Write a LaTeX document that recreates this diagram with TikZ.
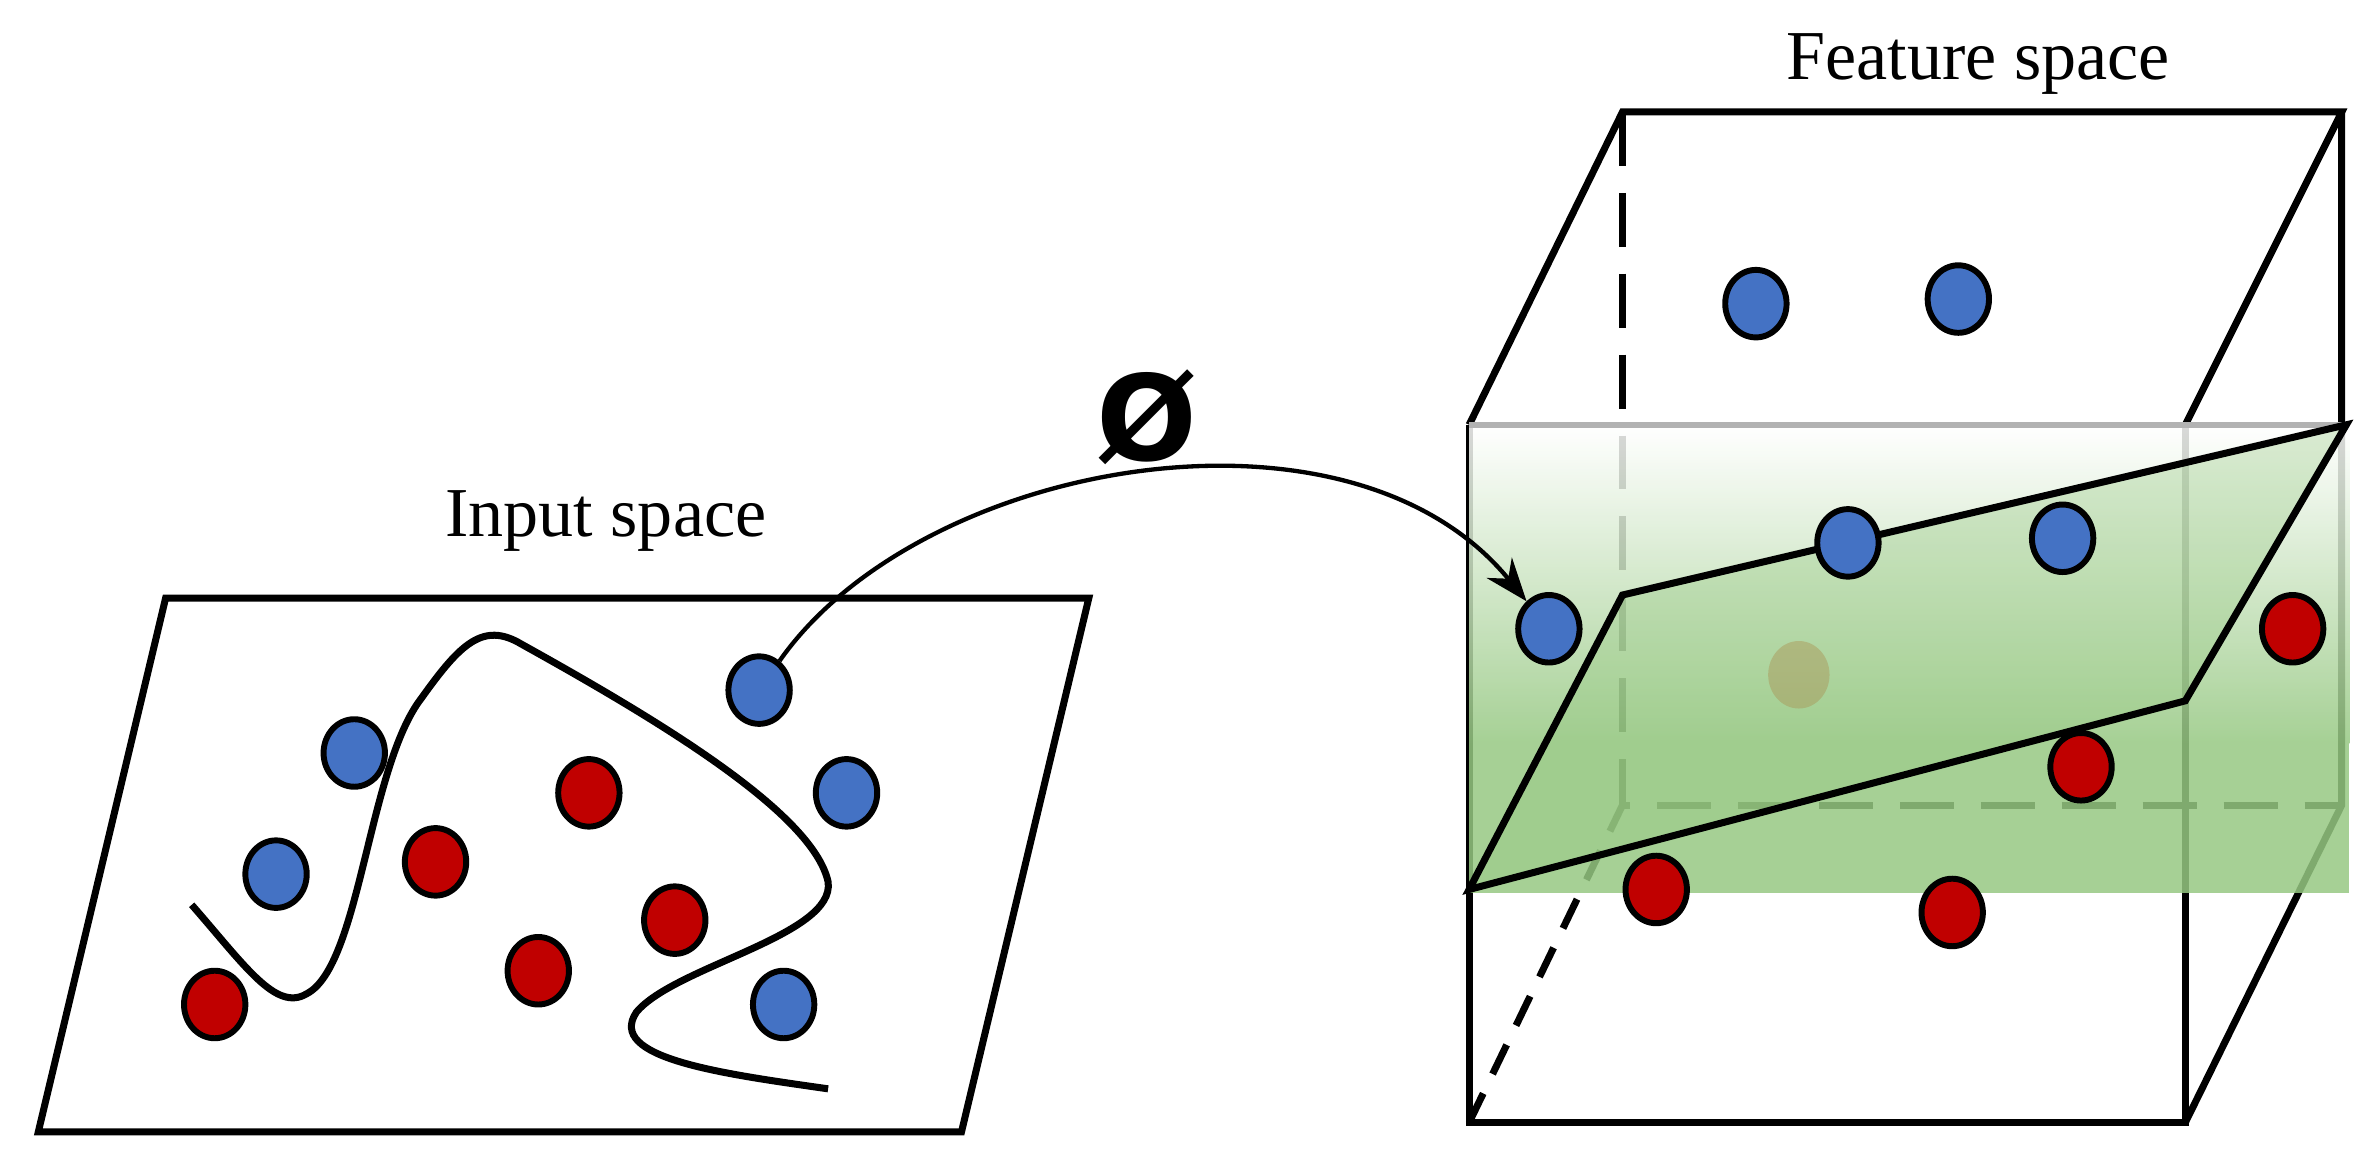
\documentclass[tikz,border=0pt]{standalone}
\usepackage{fontspec}
\setmainfont{Liberation Serif}
\newfontfamily\phifont{DejaVu Sans}
\usetikzlibrary{shapes.geometric,arrows.meta}
\begin{document}
\begin{tikzpicture}[x=0.01cm,y=-0.01cm,
  dot/.style={ellipse,draw=black,line width=1.1pt,minimum width=0.4cm,minimum height=0.44cm,inner sep=0pt},
  bl/.style={dot,fill={rgb,255:red,68;green,114;blue,196}},
  rd/.style={dot,fill={rgb,255:red,192;green,0;blue,0}},
  edge/.style={line width=1.3pt,black},
  lbl/.style={font=\fontsize{13}{15}\selectfont}]
\definecolor{gr}{RGB}{150,200,130}
\useasboundingbox (0,0) rectangle (1550,760);
% left plane
\draw[edge] (108,390) -- (710,390) -- (627,738) -- (25,738) -- cycle;
\draw[edge] (125,590) .. controls (160,630) and (180,660) .. (200,648)
  .. controls (235,630) and (240,500) .. (275,455)
  .. controls (300,420) and (315,405) .. (340,420)
  .. controls (430,470) and (530,530) .. (540,575)
  .. controls (545,610) and (440,630) .. (415,660)
  .. controls (395,690) and (470,700) .. (540,710);
\node[lbl] (inp) at (395,340) {Input space};
\node[bl] (b1) at (231,491) {};
\node[bl] (b2) at (180,570) {};
\node[bl] (b3) at (495,450) {};
\node[bl] (b4) at (552,517) {};
\node[bl] (b5) at (511,655) {};
\node[rd] (r1) at (384,517) {};
\node[rd] (r2) at (284,562) {};
\node[rd] (r3) at (140,655) {};
\node[rd] (r4) at (351,633) {};
\node[rd] (r5) at (440,600) {};
% box
\coordinate (A) at (958,277); \coordinate (B) at (1425,277);
\coordinate (C) at (1425,732); \coordinate (D) at (958,732);
\coordinate (E) at (1058,73); \coordinate (F) at (1527,73);
\coordinate (G) at (1527,525); \coordinate (H) at (1058,525);
\draw[edge] (A) -- (E) -- (F) -- (B);
\draw[edge] (F) -- (G) -- (C);
\draw[edge] (A) -- (D) -- (C) -- (B);
\draw[edge,dashed,dash pattern=on 10pt off 5pt] (E) -- (H) -- (G);
\draw[edge,dashed,dash pattern=on 6pt off 4pt] (D) -- (H);
\node[lbl] (fs) at (1290,42) {Feature space};
% green band
\shade[top color=white,bottom color=gr,opacity=0.85] (958,277) rectangle (1532,485);
\fill[gr,opacity=0.85] (958,485) rectangle (1532,582);
\draw[gray!60,line width=1pt] (958,277) -- (1532,277);
\node[dot,draw=none,fill={rgb,255:red,180;green,120;blue,60},opacity=0.45] (fr) at (1173,440) {};
\fill[gr,opacity=0.35] (958,580) -- (1058,388) -- (1530,277) -- (1425,457) -- cycle;
\draw[edge] (958,580) -- (1058,388) -- (1530,277) -- (1425,457) -- cycle;
\node[bl] (c1) at (1145,198) {};
\node[bl] (c2) at (1277,195) {};
\node[bl] (c3) at (1205,354) {};
\node[bl] (c4) at (1345,351) {};
\node[bl] (c5) at (1010,410) {};
\node[rd] (d1) at (1495,410) {};
\node[rd] (d2) at (1357,500) {};
\node[rd] (d3) at (1080,580) {};
\node[rd] (d4) at (1273,595) {};
% mapping arrow
\draw[line width=0.8pt,-{Stealth[length=8pt]}] (b3) .. controls (600,300) and (880,250) .. (c5);
\node[font=\phifont\bfseries\fontsize{22}{24}\selectfont] (phi) at (748,272) {Ø};
\end{tikzpicture}
\end{document}
